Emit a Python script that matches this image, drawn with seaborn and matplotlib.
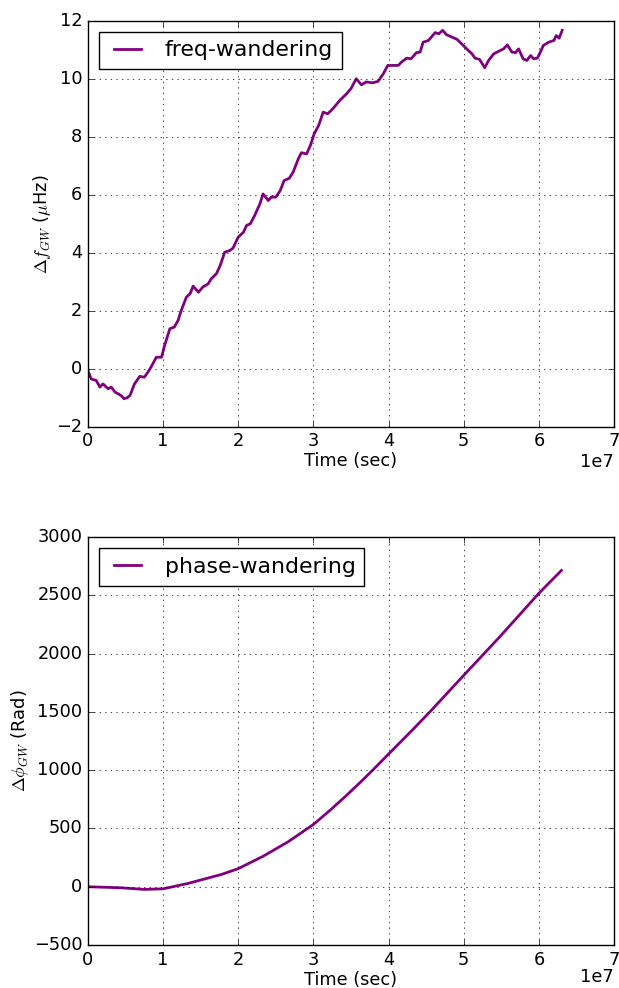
import numpy as np
import pandas as pd
import seaborn as sns
import matplotlib
matplotlib.use("Agg")
import matplotlib.pyplot as plt

# --- data (time in units of 1e7 sec) ---
freq_t = [0.0, 0.044, 0.11, 0.16, 0.2, 0.27, 0.31, 0.36, 0.4, 0.44, 0.48, 0.52, 0.56,
          0.62, 0.69, 0.75, 0.8, 0.84, 0.91, 0.98, 1.02, 1.09, 1.15, 1.2, 1.24, 1.31,
          1.36, 1.4, 1.47, 1.53, 1.6, 1.64, 1.71, 1.76, 1.82, 1.89, 1.93, 2.0, 2.07,
          2.11, 2.16, 2.22, 2.29, 2.33, 2.4, 2.44, 2.5, 2.56, 2.61, 2.68, 2.73, 2.8,
          2.84, 2.91, 2.96, 3.01, 3.07, 3.13, 3.19, 3.26, 3.35, 3.44, 3.5, 3.57, 3.64,
          3.7, 3.79, 3.86, 3.93, 3.99, 4.06, 4.13, 4.17, 4.24, 4.3, 4.37, 4.42, 4.46,
          4.53, 4.57, 4.62, 4.67, 4.72, 4.77, 4.84, 4.91, 4.97, 5.04, 5.11, 5.15, 5.21,
          5.28, 5.33, 5.4, 5.46, 5.53, 5.58, 5.64, 5.69, 5.73, 5.79, 5.84, 5.89, 5.93,
          5.98, 6.02, 6.06, 6.13, 6.2, 6.23, 6.27, 6.31]
freq_dev = [-0.06, -0.35, -0.4, -0.63, -0.52, -0.69, -0.63, -0.8, -0.86, -0.92, -1.03,
            -1.0, -0.92, -0.52, -0.26, -0.29, -0.11, 0.06, 0.4, 0.4, 0.8, 1.38, 1.44,
            1.67, 2.0, 2.47, 2.59, 2.85, 2.64, 2.82, 2.93, 3.1, 3.28, 3.56, 4.02, 4.08,
            4.16, 4.54, 4.71, 4.94, 5.0, 5.29, 5.7, 6.03, 5.8, 5.92, 5.92, 6.15, 6.49,
            6.57, 6.78, 7.24, 7.45, 7.41, 7.7, 8.1, 8.39, 8.85, 8.79, 8.97, 9.25, 9.48,
            9.66, 10.0, 9.79, 9.89, 9.86, 9.91, 10.17, 10.46, 10.46, 10.46, 10.57,
            10.71, 10.69, 10.9, 10.92, 11.26, 11.32, 11.44, 11.59, 11.55, 11.67, 11.52,
            11.44, 11.36, 11.21, 11.03, 10.86, 10.71, 10.67, 10.38, 10.63, 10.86,
            10.94, 11.03, 11.17, 10.92, 10.9, 11.03, 10.69, 10.63, 10.8, 10.69, 10.71,
            10.92, 11.15, 11.26, 11.32, 11.49, 11.4, 11.67]

phase_t = [0.0, 0.44, 0.75, 1.0, 1.33, 1.78, 2.0, 2.33, 2.66, 3.0, 3.22, 3.44, 3.66,
           3.8, 4.0, 4.33, 4.55, 5.0, 5.28, 5.48, 6.0, 6.3]
phase_dev = [0, -9, -23, -18, 28, 106, 155, 261, 384, 534, 655, 783, 918, 1007, 1138,
             1353, 1500, 1813, 2006, 2144, 2517, 2713]

plt.style.use("classic")
plt.rcParams["figure.facecolor"] = "white"
plt.rcParams["savefig.facecolor"] = "white"
plt.rcParams["xtick.labelsize"] = 12.8
plt.rcParams["ytick.labelsize"] = 12.8
plt.rcParams["axes.labelsize"] = 12.8

fig = plt.figure(figsize=(6.19, 9.88), dpi=100)
ax1 = fig.add_axes([0.142, 0.568, 0.85, 0.411])
ax2 = fig.add_axes([0.142, 0.0435, 0.85, 0.413])

df_f = pd.DataFrame({"t": np.array(freq_t) * 1e7, "f": freq_dev})
df_p = pd.DataFrame({"t": np.array(phase_t) * 1e7, "p": phase_dev})

sns.lineplot(data=df_f, x="t", y="f", ax=ax1, color="purple", lw=2,
             estimator=None, label="freq-wandering")
sns.lineplot(data=df_p, x="t", y="p", ax=ax2, color="purple", lw=2,
             estimator=None, label="phase-wandering")

ax1.set_xlim(0, 7e7)
ax1.set_ylim(-2, 12)
ax2.set_xlim(0, 7e7)
ax2.set_ylim(-500, 3000)

ax1.set_ylabel(r"$\Delta f_{GW}$ ($\mu$Hz)", labelpad=2)
ax2.set_ylabel(r"$\Delta \phi_{GW}$ (Rad)", labelpad=2)
for ax in (ax1, ax2):
    ax.set_xlabel("Time (sec)", labelpad=1.5)
    ax.grid(True)
    ax.legend(loc="upper left", fontsize=15.8, handlelength=1.8,
              handletextpad=0.8)
    # offset text drawn by hand so it stays inside the figure
    ax.xaxis.get_offset_text().set_visible(False)

ax1.text(1.0, -0.064, "1e7", transform=ax1.transAxes, ha="right", va="top",
         fontsize=12.8)
ax2.text(1.0, -0.056, "1e7", transform=ax2.transAxes, ha="right", va="top",
         fontsize=12.8)

fig.savefig("out.png", dpi=100)
